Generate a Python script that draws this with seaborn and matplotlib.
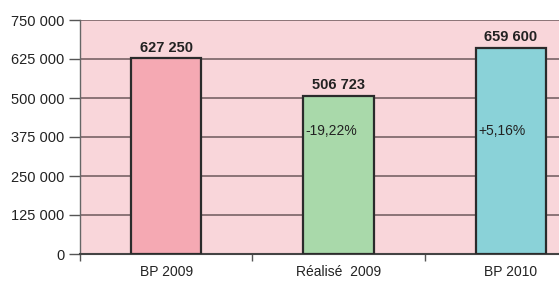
import matplotlib
matplotlib.use("Agg")
import matplotlib.pyplot as plt
import seaborn as sns
import pandas as pd

categories = ["BP 2009", "Réalisé  2009", "BP 2010"]
values = [627250, 506723, 659600]
value_labels = ["627 250", "506 723", "659 600"]
pct_labels = ["", "-19,22%", "+5,16%"]
colors = ["#F5A9B3", "#A9D9AA", "#8AD2D8"]
yticks = [0, 125000, 250000, 375000, 500000, 625000, 750000]
ytick_labels = ["0", "125 000", "250 000", "375 000", "500 000", "625 000", "750 000"]

sns.set_theme(style="white")
plt.rcParams["font.family"] = ["Liberation Sans", "DejaVu Sans"]

df = pd.DataFrame({"cat": categories, "val": values})

fig = plt.figure(figsize=(5.59, 2.85), dpi=100)
fig.patch.set_facecolor("white")
ax = fig.add_axes([80/559, 31/285, 517/559, 234/285])
ax.set_facecolor("#F9D6DA")

sns.barplot(data=df, x="cat", y="val", hue="cat", palette=colors, legend=False,
            width=0.41, saturation=1, edgecolor="#2b2b2b", linewidth=1.6, ax=ax, zorder=3)

ax.set_ylim(0, 750000)
ax.set_xlim(-0.5, 2.5)
ax.set_yticks(yticks)
ax.set_yticklabels(ytick_labels, fontsize=10.5, color="#222222")
ax.yaxis.grid(True, color="#6e5a5c", linewidth=1.1, zorder=1)
ax.set_axisbelow(True)
ax.tick_params(axis="y", length=8, width=1, color="#555555", pad=3, left=True)
ax.tick_params(axis="x", which="major", length=0, pad=8, labelsize=10, labelcolor="#222222")
ax.set_xticks([-0.5, 0.5, 1.5], minor=True)
ax.tick_params(axis="x", which="minor", length=5, width=1, color="#555555", bottom=True)
ax.set_xlabel("")
ax.set_ylabel("")

for s in ["top", "right"]:
    ax.spines[s].set_visible(False)
ax.spines["left"].set_color("#666666")
ax.spines["left"].set_linewidth(1)
ax.spines["bottom"].set_color("#444444")
ax.spines["bottom"].set_linewidth(1.5)

for i, (v, lab) in enumerate(zip(values, value_labels)):
    ax.text(i, v + 12000, lab, ha="center", va="bottom", fontsize=10.5,
            fontweight="bold", color="#222222")

for i, p in enumerate(pct_labels):
    if p:
        ax.text(i - 0.19, 394000, p, ha="left", va="center", fontsize=10, color="#222222")

fig.savefig("out.png", dpi=100)
